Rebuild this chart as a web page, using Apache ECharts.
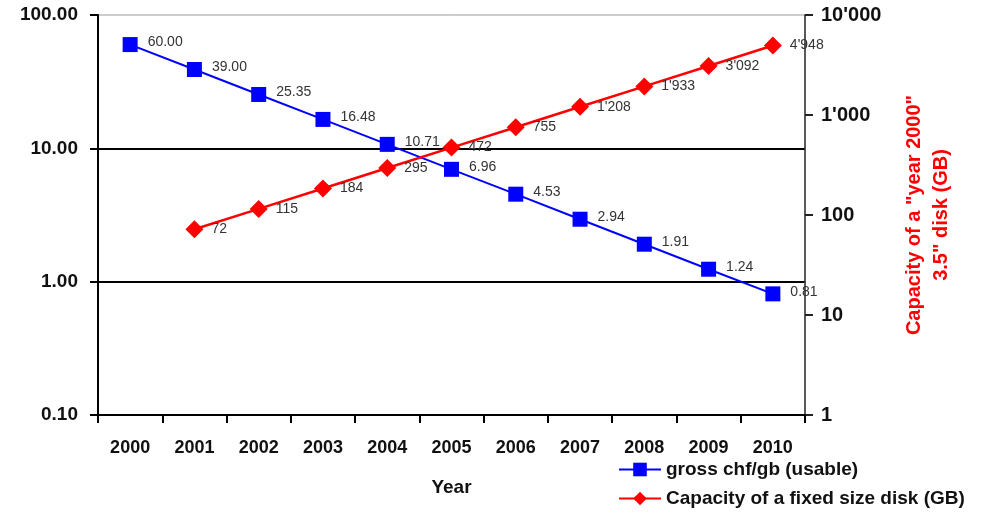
<!DOCTYPE html>
<html>
<head>
<meta charset="utf-8">
<script src="https://cdn.jsdelivr.net/npm/echarts@6/dist/echarts.min.js"></script>
<style>
  html, body { margin: 0; padding: 0; background: #fff; }
  #chart { width: 990px; height: 516px; }
</style>
</head>
<body>
<div id="chart"></div>
<script>
// 데이터
const years = ['2000', '2001', '2002', '2003', '2004', '2005', '2006', '2007', '2008', '2009', '2010'];
const grossChfPerGb = [60.00, 39.00, 25.35, 16.48, 10.71, 6.96, 4.53, 2.94, 1.91, 1.24, 0.81];
const fixedDiskCapacity = ['-', 72, 115, 184, 295, 472, 755, 1208, 1933, 3092, 4948];

const FONT = '"Liberation Sans", Arial, sans-serif';
const legendText = { fontFamily: FONT, fontSize: 19, fontWeight: 'bold', color: '#111' };

// 천 단위 구분 기호 (1'000)
function swissNum(v) {
    return String(Math.round(v)).replace(/\B(?=(\d{3})+(?!\d))/g, "'");
}

const chart = echarts.init(document.getElementById('chart'));

let option = {
    animation: false,
    textStyle: { fontFamily: FONT },
    grid: {
        left: 98, right: 185, top: 15, bottom: 101,
        show: true,
        borderColor: '#999',
        borderWidth: 1
    },
    // 범례 두 줄 (각각 따로)
    legend: [
        {
            left: 613, top: 455,
            itemWidth: 42, itemHeight: 17, itemGap: 2,
            textStyle: legendText,
            data: ['gross chf/gb (usable)']
        },
        {
            left: 613, top: 484,
            itemWidth: 42, itemHeight: 17, itemGap: 2,
            textStyle: legendText,
            data: ['Capacity of a fixed size disk (GB)']
        }
    ],
    xAxis: {
        type: 'category',
        data: years,
        boundaryGap: true,
        name: 'Year',
        nameLocation: 'middle',
        nameGap: 63,
        nameTextStyle: { fontFamily: FONT, fontSize: 19, fontWeight: 'bold', color: '#111' },
        axisLine: { lineStyle: { color: '#000', width: 2 } },
        axisTick: { show: true, length: 8, lineStyle: { color: '#000', width: 2 } },
        axisLabel: { margin: 24, fontSize: 18, fontWeight: 'bold', color: '#111', fontFamily: FONT },
        splitLine: { show: false }
    },
    yAxis: [
        {
            type: 'log',
            logBase: 10,
            min: 0.1,
            max: 100,
            position: 'left',
            axisLine: { show: true, lineStyle: { color: '#000', width: 2 } },
            axisTick: { show: true, length: 8, lineStyle: { color: '#000', width: 2 } },
            axisLabel: {
                margin: 20,
                fontSize: 19,
                fontWeight: 'bold',
                color: '#111',
                fontFamily: FONT,
                formatter: v => Number(v).toFixed(2)
            },
            splitLine: {
                show: true,
                showMaxLine: false,
                lineStyle: { color: '#000', width: 2 }
            },
            minorTick: { show: false }
        },
        {
            type: 'log',
            logBase: 10,
            min: 1,
            max: 10000,
            position: 'right',
            name: 'Capacity of a "year 2000"\n3.5" disk (GB)',
            nameLocation: 'middle',
            nameGap: 96,
            nameTextStyle: {
                fontFamily: FONT, fontSize: 20, fontWeight: 'bold', color: '#ff0000',
                lineHeight: 27, align: 'center'
            },
            axisLine: { show: true, lineStyle: { color: '#333', width: 1.5 } },
            axisTick: { show: true, length: 8, lineStyle: { color: '#222', width: 2 } },
            axisLabel: {
                margin: 16,
                fontSize: 20,
                fontWeight: 'bold',
                color: '#111',
                fontFamily: FONT,
                formatter: v => swissNum(v)
            },
            splitLine: { show: false }
        }
    ],
    series: [
        {
            name: 'gross chf/gb (usable)',
            type: 'line',
            yAxisIndex: 0,
            data: grossChfPerGb,
            symbol: 'rect',
            symbolSize: 15,
            itemStyle: { color: '#0000ff' },
            lineStyle: { color: '#0000ff', width: 2 },
            label: {
                show: true,
                position: 'right',
                distance: 10,
                offset: [0, -2],
                fontSize: 14,
                color: '#333',
                fontFamily: FONT,
                formatter: p => Number(p.value).toFixed(2)
            },
            z: 3
        },
        {
            name: 'Capacity of a fixed size disk (GB)',
            type: 'line',
            yAxisIndex: 1,
            data: fixedDiskCapacity,
            symbol: 'diamond',
            symbolSize: 18,
            itemStyle: { color: '#ff0000' },
            lineStyle: { color: '#ff0000', width: 2.5 },
            label: {
                show: true,
                position: 'right',
                distance: 8,
                fontSize: 14,
                color: '#333',
                fontFamily: FONT,
                formatter: p => swissNum(p.value)
            },
            z: 4
        }
    ]
};

chart.setOption(option);
</script>
</body>
</html>
